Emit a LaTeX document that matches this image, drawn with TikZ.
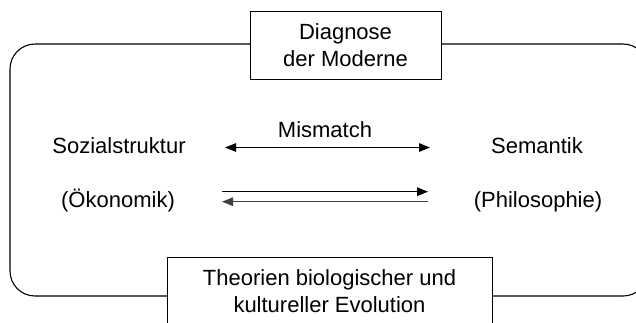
\documentclass[tikz,border=0pt]{standalone}
\usepackage{fontspec}
\setmainfont{Liberation Sans}
\usetikzlibrary{arrows.meta}
\tikzset{
  lbl/.style={font=\fontsize{22}{26}\selectfont, inner sep=0pt, anchor=base},
  rahmen/.style={draw, fill=white, line width=0.9pt, align=center,
    font=\fontsize{22}{26.5}\selectfont},
  pfeil/.style={line width=1.2pt, >={Triangle[length=11pt,width=8.5pt]}}
}
\begin{document}
\begin{tikzpicture}[x=1pt, y=-1pt]
            \clip (0,0) rectangle (636,322);
            \draw[line width=1.1pt, rounded corners=25pt] (10,44) rectangle (648,296);
            \node[rahmen, minimum width=191pt, minimum height=68pt] (diagnose) at (345.5,45) {Diagnose\\der Moderne};
            \node[rahmen, minimum width=325pt, minimum height=68pt] (evolution) at (329.5,291) {Theorien biologischer und\\kultureller Evolution};
            \node[lbl] (mismatch) at (325,137) {Mismatch};
            \node[lbl] (sozial) at (119,153) {Sozialstruktur};
            \node[lbl] (semantik) at (537,153) {Semantik};
            \node[lbl] (oekonomik) at (118,207) {(Ökonomik)};
            \node[lbl] (philosophie) at (538,207) {(Philosophie)};
            \coordinate (mmL) at (225,147.5);
            \coordinate (mmR) at (430,147.5);
            \coordinate (hinL) at (222,191.7);
            \coordinate (hinR) at (428,191.7);
            \coordinate (rueckR) at (428,201.7);
            \coordinate (rueckL) at (222,201.7);
            \draw[pfeil, <->] (mmL) -- (mmR);
            \draw[pfeil, ->] (hinL) -- (hinR);
            \draw[pfeil, ->, black!75] (rueckR) -- (rueckL);
\end{tikzpicture}
\end{document}
